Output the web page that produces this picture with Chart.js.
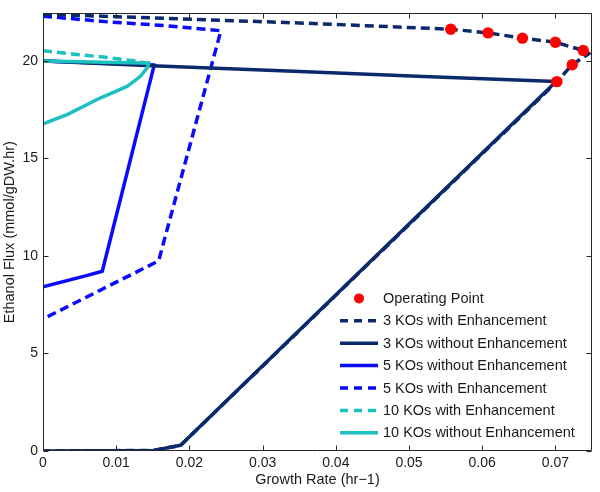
<!DOCTYPE html>
<html>
<head>
<meta charset="utf-8">
<script src="https://cdn.jsdelivr.net/npm/chart.js@4.4.1/dist/chart.umd.min.js"></script>
<style>
  html, body { margin: 0; padding: 0; background: #fff; }
  canvas { display: block; }
</style>
</head>
<body>
<canvas id="c" width="600" height="492"></canvas>
<script>
// ---- Data ----
const xTicks = [0, 0.01, 0.02, 0.03, 0.04, 0.05, 0.06, 0.07];
const yTicks = [0, 5, 10, 15, 20];

const opX = [0.0557, 0.0608, 0.0655, 0.0700, 0.0738, 0.0723, 0.0702];
const opY = [21.63, 21.44, 21.17, 20.96, 20.54, 19.81, 18.94];

const ko3EnhX = [0, 0.035, 0.0557, 0.0608, 0.0655, 0.0700, 0.0738, 0.0746, 0.0723, 0.0702, 0.0188, 0.0151, 0];
const ko3EnhY = [22.4, 21.95, 21.63, 21.44, 21.17, 20.96, 20.54, 20.38, 19.81, 18.94, 0.29, 0.03, 0];

const ko3X = [0, 0.0149, 0.0351, 0.052, 0.0701, 0.0188, 0.0151, 0];
const ko3Y = [20.0, 19.76, 19.46, 19.21, 18.95, 0.29, 0.03, 0];

const ko5X = [0, 0.0058, 0.0081, 0.0152, 0];
const ko5Y = [8.42, 8.98, 9.22, 19.8, 20.0];

const ko5EnhX = [0, 0.009, 0.0165, 0.0243, 0.0158, 0];
const ko5EnhY = [22.3, 22.0, 21.82, 21.55, 9.75, 6.77];

const ko10EnhX = [0, 0.0042, 0.0088, 0.0124, 0.0142];
const ko10EnhY = [20.52, 20.35, 20.18, 20.01, 19.89];

const ko10X = [0, 0.0033, 0.0078, 0.0115, 0.0133, 0.0142, 0.0145, 0.0135, 0];
const ko10Y = [16.77, 17.25, 18.1, 18.7, 19.21, 19.63, 19.9, 19.9, 20.0];

const labels = [
  'Operating Point',
  '3 KOs with Enhancement',
  '3 KOs without Enhancement',
  '5 KOs without Enhancement',
  '5 KOs with Enhancement',
  '10 KOs with Enhancement',
  '10 KOs without Enhancement'
];

const NAVY = '#0b2a6c';
const BLUE = '#0a0aff';
const CYAN = '#1cc0c0';
const RED = '#ff0000';
const FONT = '"Liberation Sans", Arial, Helvetica, sans-serif';

function pts(xs, ys) { return xs.map((x, i) => ({ x: x, y: ys[i] })); }

const DASH = [9, 5];

const datasets = [
  { label: labels[0], data: pts(opX, opY), showLine: false, pointRadius: 5.7, pointBackgroundColor: RED, pointBorderColor: RED, pointBorderWidth: 0, order: 0, legendType: 'point' },
  { label: labels[1], data: pts(ko3EnhX, ko3EnhY), borderColor: NAVY, borderWidth: 3.5, borderDash: DASH, order: 4 },
  { label: labels[2], data: pts(ko3X, ko3Y), borderColor: NAVY, borderWidth: 3.5, order: 3 },
  { label: labels[3], data: pts(ko5X, ko5Y), borderColor: BLUE, borderWidth: 3.5, order: 6 },
  { label: labels[4], data: pts(ko5EnhX, ko5EnhY), borderColor: BLUE, borderWidth: 3.5, borderDash: DASH, order: 5 },
  { label: labels[5], data: pts(ko10EnhX, ko10EnhY), borderColor: CYAN, borderWidth: 3.5, borderDash: DASH, order: 2 },
  { label: labels[6], data: pts(ko10X, ko10Y), borderColor: CYAN, borderWidth: 3.5, order: 1 }
];
datasets.forEach(d => {
  if (d.showLine === undefined) { d.showLine = true; d.pointRadius = 0; }
  d.fill = false;
  d.tension = 0;
  d.borderCapStyle = 'butt';
  d.borderJoinStyle = 'round';
});

// Box + inward ticks (MATLAB style)
const boxPlugin = {
  id: 'box',
  afterDatasetsDraw(chart) {
    const ctx = chart.ctx, a = chart.chartArea;
    const xs = chart.scales.x, ys = chart.scales.y;
    ctx.save();
    ctx.strokeStyle = '#262626';
    ctx.lineWidth = 1;
    ctx.beginPath();
    const L = Math.round(a.left) + 0.5, R = Math.round(a.right) - 0.5;
    const T = Math.round(a.top) + 0.5, B = Math.round(a.bottom) - 0.5;
    ctx.rect(L, T, R - L, B - T);
    const tl = 5;
    xTicks.forEach(v => {
      const px = Math.round(xs.getPixelForValue(v)) + 0.5;
      ctx.moveTo(px, B); ctx.lineTo(px, B - tl);
      ctx.moveTo(px, T); ctx.lineTo(px, T + tl);
    });
    yTicks.forEach(v => {
      const py = Math.round(ys.getPixelForValue(v)) + 0.5;
      ctx.moveTo(L, py); ctx.lineTo(L + tl, py);
      ctx.moveTo(R, py); ctx.lineTo(R - tl, py);
    });
    ctx.stroke();
    ctx.restore();
  }
};

// Legend drawn inside the plot area (no box)
const legendPlugin = {
  id: 'inLegend',
  afterDraw(chart) {
    const ctx = chart.ctx, a = chart.chartArea;
    const x0 = a.right - 252, x1 = a.right - 214, tx = a.right - 209;
    const y0 = a.top + 285, step = 22.4;
    ctx.save();
    ctx.font = '14.5px ' + FONT;
    ctx.textBaseline = 'middle';
    ctx.fillStyle = '#1a1a1a';
    datasets.forEach((d, i) => {
      const y = y0 + i * step;
      if (d.legendType === 'point') {
        ctx.beginPath();
        ctx.fillStyle = RED;
        ctx.arc((x0 + x1) / 2, y, 5, 0, Math.PI * 2);
        ctx.fill();
      } else {
        ctx.beginPath();
        ctx.strokeStyle = d.borderColor;
        ctx.lineWidth = 3.5;
        ctx.setLineDash(d.borderDash ? [8, 6] : []);
        ctx.moveTo(x0, y); ctx.lineTo(x1, y);
        ctx.stroke();
        ctx.setLineDash([]);
      }
      ctx.fillStyle = '#1a1a1a';
      ctx.fillText(d.label, tx, y + 0.5);
    });
    ctx.restore();
  }
};

new Chart(document.getElementById('c'), {
  type: 'scatter',
  data: { datasets: datasets },
  options: {
    responsive: false,
    animation: false,
    layout: { padding: { top: 12, right: 8, left: 0, bottom: 0 } },
    plugins: { legend: { display: false }, tooltip: { enabled: false } },
    scales: {
      x: {
        type: 'linear', min: 0, max: 0.075,
        afterFit(s) { s.height = 41; },
        afterBuildTicks(s) { s.ticks = xTicks.map(v => ({ value: v })); },
        grid: { display: false, drawTicks: false },
        border: { display: false },
        ticks: {
          padding: 4, color: '#1a1a1a', font: { family: FONT, size: 14 },
          maxRotation: 0, autoSkip: false,
          callback: v => String(Number(v.toFixed(3)))
        },
        title: { display: true, text: 'Growth Rate (hr\u22121)', color: '#1a1a1a', font: { family: FONT, size: 14.5 }, padding: { top: 0, bottom: 3 } }
      },
      y: {
        type: 'linear', min: 0, max: 22.44,
        afterFit(s) { s.width = 43; },
        afterBuildTicks(s) { s.ticks = yTicks.map(v => ({ value: v })); },
        grid: { display: false, drawTicks: false },
        border: { display: false },
        ticks: {
          padding: 5, color: '#1a1a1a', font: { family: FONT, size: 14 }, autoSkip: false,
          callback: v => String(v)
        },
        title: { display: true, text: 'Ethanol Flux (mmol/gDW.hr)', color: '#1a1a1a', font: { family: FONT, size: 14.5 }, padding: { top: 1, bottom: 0 } }
      }
    }
  },
  plugins: [boxPlugin, legendPlugin]
});
</script>
</body>
</html>
